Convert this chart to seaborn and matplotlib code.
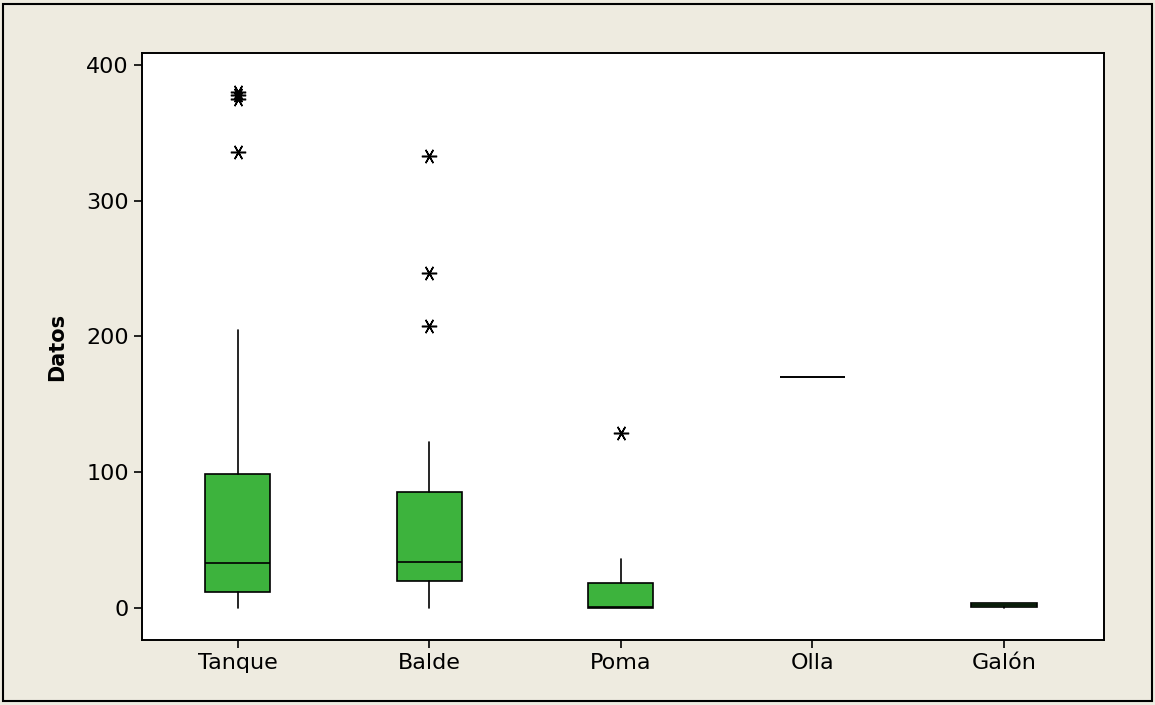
import numpy as np
import seaborn as sns
import matplotlib
matplotlib.use("Agg")
from matplotlib import pyplot as plt
from matplotlib.patches import Rectangle

# summary values
categories = ["Tanque", "Balde", "Poma", "Olla", "Galón"]
whisker_low = [0, 0, 0, 170, 0]
q1 = [12, 19.5, 0, 170, 0.5]
median = [33, 34, 1, 170, 2]
q3 = [99, 85.5, 18.5, 170, 4]
whisker_high = [205, 122, 36, 170, 4]
outliers = [[336, 375, 378, 380], [208, 247, 333], [129], [], []]
y_ticks = [0, 100, 200, 300, 400]

sns.set_style("white")
plt.rcParams["font.family"] = ["DejaVu Sans"]

fig = plt.figure(figsize=(11.55, 7.05), dpi=100)
fig.patch.set_facecolor("#EEEBE0")
fig.patches.append(Rectangle((0.003, 0.005), 0.994, 0.99, transform=fig.transFigure,
                             fill=False, edgecolor="black", linewidth=1.5))
ax = fig.add_axes([0.1229, 0.0922, 0.8326, 0.8326])

stats = []
for i, name in enumerate(categories):
    stats.append(dict(label=name, whislo=whisker_low[i], q1=q1[i], med=median[i],
                      q3=q3[i], whishi=whisker_high[i], fliers=outliers[i]))

ax.bxp(stats, positions=range(len(categories)), widths=0.34, patch_artist=True,
       showcaps=False,
       boxprops=dict(facecolor="#3DB33D", edgecolor="black", linewidth=1.2),
       medianprops=dict(color="black", linewidth=1.2),
       whiskerprops=dict(color="black", linewidth=1.2),
       flierprops=dict(marker=(6, 2, 90), markersize=11, markeredgecolor="black",
                       markeredgewidth=1.1, linestyle="none"))

ax.set_xlim(-0.5, 4.52)
ax.set_ylim(-23.6, 408.8)
ax.set_yticks(y_ticks)
ax.set_xticks(range(len(categories)))
ax.set_xticklabels(categories)
ax.tick_params(axis="both", direction="out", length=6, width=1.2, labelsize=16,
               left=True, bottom=True, colors="black")
ax.set_ylabel("Datos", fontsize=15, fontweight="bold", labelpad=14, color="black")
for s in ax.spines.values():
    s.set_visible(True)
    s.set_color("black")
    s.set_linewidth(1.4)
ax.set_facecolor("white")

fig.savefig("out.png", dpi=100, facecolor=fig.get_facecolor())
